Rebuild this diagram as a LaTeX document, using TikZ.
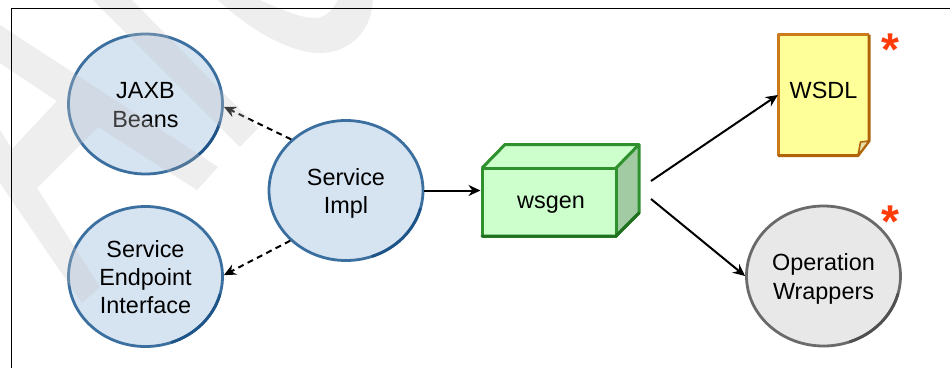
\documentclass[tikz,border=0pt]{standalone}
\usepackage{fontspec}
\setmainfont{Liberation Sans}
\usetikzlibrary{arrows.meta,shapes.geometric}
\definecolor{wm}{gray}{0.78}
\definecolor{bluefill}{HTML}{D6E3F1}
\definecolor{blueedge}{HTML}{3A6F9F}
\definecolor{bluedark}{HTML}{1F5488}
\definecolor{greenedge}{HTML}{2E912E}
\definecolor{greendark}{HTML}{1F701F}
\definecolor{greenfill}{HTML}{CCFFCC}
\definecolor{greenside}{HTML}{A3CBA3}
\definecolor{orangeedge}{HTML}{CC7A1A}
\definecolor{orangedark}{HTML}{B0640A}
\definecolor{yellowfill}{HTML}{FFFF99}
\definecolor{foldfill}{HTML}{E6DDA8}
\definecolor{starred}{HTML}{FF3B0A}
\definecolor{greyedge}{HTML}{6A6A6A}
\definecolor{greydark}{HTML}{505050}
\newcommand\toprule{\rule{0pt}{23pt}}
\newcommand\botrule{\rule[-5pt]{0pt}{5pt}}
\newcommand\nudged[2]{\smash{\raisebox{-#1pt}{#2}}}
\tikzset{
  x=1pt,y=-1pt,
  lbl/.style={font=\fontsize{23.4}{28.4}\selectfont,align=center,text=black,inner sep=0pt},
  bubble/.style={ellipse,draw=blueedge,fill=bluefill,line width=2.8pt,minimum width=154pt,minimum height=140pt,inner sep=0pt,lbl},
  grey bubble/.style={bubble,draw=greyedge,fill=black!9},
  bluerim/.style={draw=bluedark,line width=2.8pt,line cap=round},
  greyrim/.style={draw=greydark,line width=2.8pt,line cap=round},
  wmark/.style={fill=wm,fill opacity=0.3,draw=none},
  solidarrow/.style={line width=2pt,-{Stealth[length=12pt,width=11pt]}},
  dasharrow/.style={solidarrow,dash pattern=on 6pt off 4.5pt},
  starmark/.style={font=\fontsize{46}{46}\selectfont\bfseries,text=starred,inner sep=0pt},
  boxedge/.style={draw=greenedge,line width=3pt,line join=round},
  pageedge/.style={draw=orangeedge,line width=3pt,line join=round}
}
\begin{document}
\begin{tikzpicture}
\useasboundingbox (0,0) rectangle (950,368);
\fill[white] (0,0) rectangle (950,368);
% ellipses
\node[bubble] (jaxb) at (145.5,104) {\toprule JAXB\\Beans\botrule};
\node[bubble] (sei) at (145.5,276.5) {\toprule Service\\Endpoint\\Interface\botrule};
\node[bubble] (impl) at (346,190.5) {\toprule Service\\Impl\botrule};
\node[grey bubble] (ops) at (823.5,276) {\toprule Operation\\Wrappers\botrule};
\draw[bluerim] (jaxb.center) ++(15:77 and 70) arc[start angle=15,end angle=70,x radius=77,y radius=70];
\draw[bluerim] (sei.center) ++(15:77 and 70) arc[start angle=15,end angle=70,x radius=77,y radius=70];
\draw[bluerim] (impl.center) ++(15:77 and 70) arc[start angle=15,end angle=70,x radius=77,y radius=70];
\draw[greyrim] (ops.center) ++(15:77 and 70) arc[start angle=15,end angle=70,x radius=77,y radius=70];
% wsgen
\fill[greenfill] (482,168) -- (505,144.5) -- (639,144.5) -- (616,168) -- cycle;
\fill[greenside] (616,168) -- (639,144.5) -- (639,213) -- (616,236) -- cycle;
\draw[boxedge] (482,168) -- (505,144.5) -- (639,144.5) -- (639,213) -- (616,236);
\draw[boxedge] (616,168) -- (639,144.5);
\node[boxedge,fill=greenfill,minimum width=134pt,minimum height=68pt,lbl] (wsgen) at (549,202) {\nudged{6.8}{\hspace*{4pt}wsgen}};
\draw[draw=greendark,line width=3pt,line cap=round] (482,236) -- (616,236) -- (639,213);
% wsdl
\fill[yellowfill] (778,34.5) -- (869,34.5) -- (869,141) -- (858,155.5) -- (778,155.5) -- cycle;
\draw[pageedge] (778,155.5) -- (778,34.5) -- (869,34.5);
\draw[pageedge,draw=orangedark] (869,34.5) -- (869,141) -- (858,155.5) -- (778,155.5);
\draw[draw=orangedark,line width=1.6pt,line join=round,fill=foldfill] (858,155.5) -- (860.5,142) -- (869,141) -- cycle;
\node[lbl,minimum width=91pt,minimum height=121pt] (wsdl) at (823.5,95) {\nudged{3.3}{WSDL}};
\node[starmark] (sa) at (890.3,50) {*};
\node[starmark] (sb) at (890.3,222) {*};
% connectors
\coordinate (wsouta) at (651,181);
\coordinate (wsoutb) at (651,199);
\draw[solidarrow] (impl.east) -- (wsgen.west |- impl.east);
\draw[dasharrow] (impl.137) -- (jaxb.-2);
\draw[dasharrow] (impl.222) -- (sei.1);
\draw[solidarrow] (wsouta) -- (wsdl.west);
\draw[solidarrow] (wsoutb) -- (ops.west);
% watermark (lies over the drawing)
\fill[wmark] (0,25) -- (218,167) -- (197,190) -- (98,127) -- (37,188) -- (100,287) -- (82,303) -- (0,183) -- (0,130) -- (12,149) -- (57,101) -- (0,63) -- cycle;
\fill[wmark] (93,0) -- (132,0) -- (258,128) -- (240,147) -- cycle;
\fill[wmark] (218,0) .. controls (250,30) and (290,53) .. (320,53) .. controls (350,53) and (372,30) .. (373,0) -- (338,0) .. controls (331,13) and (323,18) .. (315,18) .. controls (300,18) and (285,11) .. (260,0) -- cycle;
% frame
\draw[line width=1.1pt] (11.5,368) -- (11.5,8.5) -- (950,8.5);
\end{tikzpicture}
\end{document}
